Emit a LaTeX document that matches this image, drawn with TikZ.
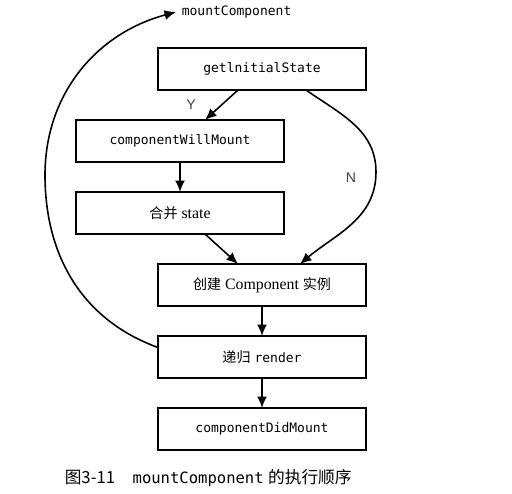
\documentclass[tikz,border=0pt]{standalone}
\usepackage{fontspec}
\setmainfont{Liberation Serif}
\setmonofont{DejaVu Sans Mono}
\newfontfamily\cjk{Noto Sans CJK SC}
\newfontfamily\ynfont{Liberation Sans}
\usetikzlibrary{positioning,arrows.meta}
\newcommand\zh[1]{{\cjk\fontsize{8}{10}\selectfont #1}}
\tikzset{>={Latex[length=2.3mm,width=2mm]},node distance=0.6cm,
  box/.style={draw,line width=1pt,minimum width=4.16cm,minimum height=0.84cm,inner sep=0pt,
    outer sep=0pt,font=\fontsize{9}{11}\selectfont},
  code/.style={font=\ttfamily\fontsize{7.4}{9}\selectfont},
  yn/.style={font=\ynfont\fontsize{8}{10}\selectfont,text=black!75}}

\begin{document}
\begin{tikzpicture}[line width=0.9pt]
    \useasboundingbox (0,0) rectangle (10.24,-9.86);
    \node[box,code] (init) at (5.24,-1.38) {getlnitialState};
    \node[box,code] (will) [below=of init,xshift=-1.64cm] {componentWillMount};
    \node[box] (merge) [below=of will] {\zh{合并} state};
    \node[box] (make) [below=of merge,xshift=1.64cm] {\zh{创建} Component \zh{实例}};
    \node[box] (render) [below=of make] {\zh{递归} \texttt{\fontsize{7.4}{9}\selectfont render}};
    \node[box,code] (did) [below=of render] {componentDidMount};
    \node[code,anchor=west,inner sep=0pt] (mc) at (3.62,-0.24) {mountComponent};
    \coordinate (bulge) at (7.52,-3.44);
    \coordinate (left) at (0.9,-3.5);
    \draw[->] ([xshift=-0.48cm]init.south) -- node[yn,left=0.38cm] {Y} ([xshift=0.5cm]will.north);
    \draw ([xshift=0.88cm]init.south) to[out=-35,in=90] (bulge);
    \draw[->] (bulge) to[out=-90,in=40] ([xshift=0.76cm]make.north);
    \node[yn] (n) at (7.02,-3.56) {N};
    \draw[->] (will) -- (merge);
    \draw[->] ([xshift=0.5cm]merge.south) -- ([xshift=-0.48cm]make.north);
    \draw[->] (make) -- (render);
    \draw[->] (render) -- (did);
    \draw[->] ([yshift=0.19cm]render.west) to[out=160,in=-90] (left)
      to[out=90,in=195] ([xshift=-0.1cm]mc.west);
    \node[anchor=west,inner sep=0pt] (cap) at (1.28,-9.56)
      {{\cjk\fontsize{9.5}{11}\selectfont 图3-11}\quad
       {\ttfamily\fontsize{8.85}{11}\selectfont mountComponent}
       {\cjk\fontsize{9.5}{11}\selectfont 的执行顺序}};
\end{tikzpicture}
\end{document}
